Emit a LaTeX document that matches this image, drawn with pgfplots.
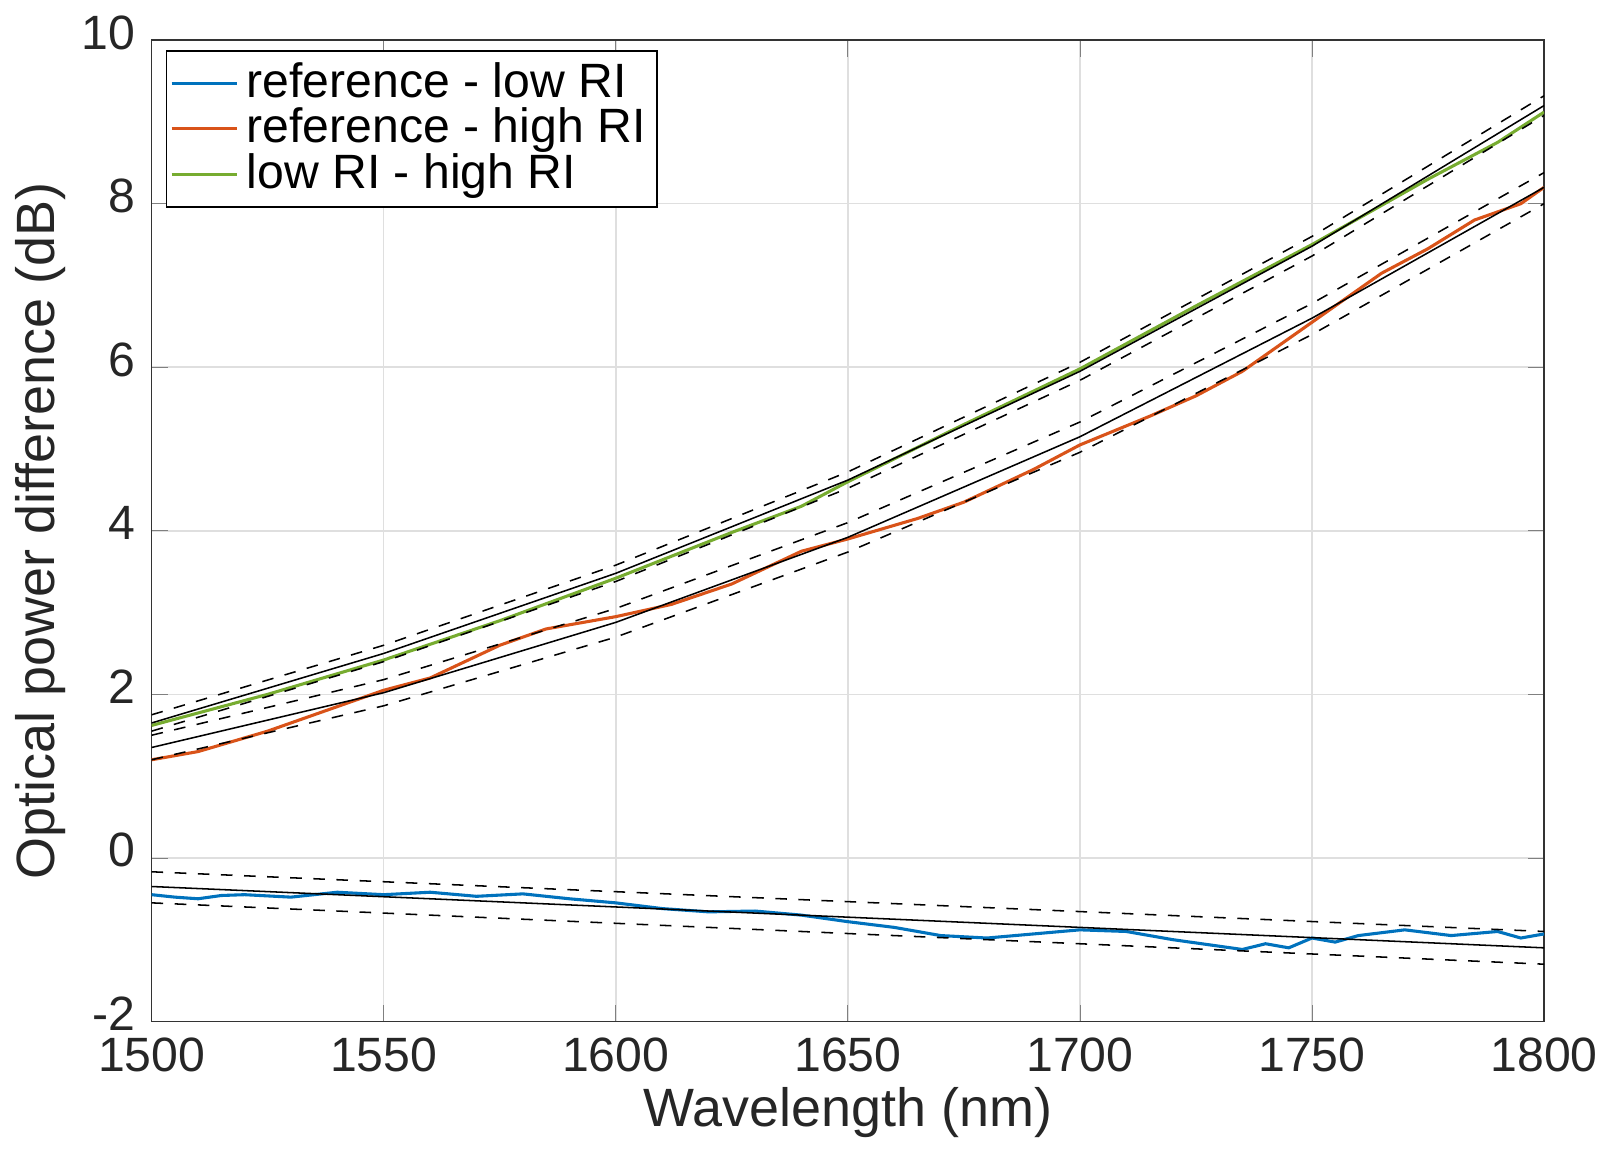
\documentclass[border=0pt]{standalone}
\usepackage{pgfplots}
\pgfplotsset{compat=1.18}
\usepackage{fontspec}
\setmainfont{Liberation Sans}
\definecolor{mblue}{RGB}{0,114,189}
\definecolor{morange}{RGB}{217,83,25}
\definecolor{mgreen}{RGB}{119,172,48}
\begin{document}
\fontsize{12}{14}\selectfont
\begin{tikzpicture}
\begin{axis}[scale only axis, width=12.7cm, height=8.95cm,
 xmin=1500, xmax=1800, ymin=-2, ymax=10,
 xtick={1500,1550,...,1800}, ytick={-2,0,...,10},
 grid=major, grid style={gray!25},
 /pgf/number format/assume math mode=true,
 /pgf/number format/set thousands separator={},
 tick label style={font=\fontsize{12.5}{15}\selectfont, color=black!85},
 label style={font=\fontsize{14}{17}\selectfont, color=black!85},
 xlabel={Wavelength (nm)}, ylabel={Optical power difference (dB)},
 xlabel style={yshift=4pt}, ylabel style={yshift=-4pt},
 yticklabel style={yshift=2pt},
 tick align=inside, axis line style={black!80},
 legend style={at={(0.01,0.99)}, anchor=north west, font=\fontsize{12.5}{15}\selectfont, draw=black, row sep=-3pt, inner sep=1pt},
 legend cell align=left]
\addplot[mblue, thick] coordinates {(1500,-0.45)(1505,-0.48)(1510,-0.5)(1515,-0.46)(1520,-0.45)(1530,-0.48)(1540,-0.42)(1550,-0.45)(1560,-0.42)(1570,-0.47)(1580,-0.44)(1590,-0.5)(1600,-0.55)(1610,-0.62)(1620,-0.66)(1630,-0.65)(1640,-0.7)(1650,-0.78)(1660,-0.85)(1670,-0.95)(1680,-0.98)(1690,-0.93)(1700,-0.88)(1710,-0.9)(1720,-1.0)(1730,-1.08)(1735,-1.12)(1740,-1.05)(1745,-1.1)(1750,-0.98)(1755,-1.03)(1760,-0.95)(1770,-0.88)(1780,-0.95)(1790,-0.9)(1795,-0.98)(1800,-0.93)};
\addlegendentry{reference - low RI}
\addplot[morange, thick] coordinates {(1500,1.2)(1510,1.3)(1525,1.55)(1540,1.85)(1550,2.05)(1560,2.2)(1575,2.6)(1585,2.8)(1600,2.95)(1612,3.1)(1625,3.35)(1640,3.75)(1650,3.9)(1665,4.15)(1675,4.35)(1690,4.75)(1700,5.05)(1715,5.4)(1725,5.65)(1735,5.95)(1745,6.35)(1755,6.75)(1765,7.15)(1775,7.45)(1785,7.8)(1795,8.0)(1800,8.2)};
\addlegendentry{reference - high RI}
\addplot[mgreen, thick] coordinates {(1500,1.62)(1525,2.0)(1550,2.42)(1575,2.9)(1600,3.42)(1625,3.98)(1640,4.3)(1650,4.6)(1675,5.3)(1700,5.98)(1725,6.75)(1750,7.5)(1775,8.3)(1790,8.75)(1800,9.12)};
\addlegendentry{low RI - high RI}
\addplot[black] coordinates {(1500,1.65)(1550,2.5)(1600,3.48)(1650,4.62)(1700,5.95)(1750,7.48)(1800,9.2)};
\addplot[black, dashed] coordinates {(1500,1.75)(1550,2.6)(1600,3.58)(1650,4.72)(1700,6.06)(1750,7.6)(1800,9.32)};
\addplot[black, dashed] coordinates {(1500,1.55)(1550,2.4)(1600,3.38)(1650,4.52)(1700,5.84)(1750,7.36)(1800,9.08)};
\addplot[black] coordinates {(1500,1.35)(1550,2.02)(1600,2.88)(1650,3.92)(1700,5.15)(1750,6.6)(1800,8.2)};
\addplot[black, dashed] coordinates {(1500,1.5)(1550,2.18)(1600,3.05)(1650,4.1)(1700,5.33)(1750,6.78)(1800,8.38)};
\addplot[black, dashed] coordinates {(1500,1.2)(1550,1.86)(1600,2.7)(1650,3.74)(1700,4.96)(1750,6.4)(1800,8.0)};
\addplot[black] coordinates {(1500,-0.35)(1800,-1.1)};
\addplot[black, dashed] coordinates {(1500,-0.17)(1800,-0.9)};
\addplot[black, dashed] coordinates {(1500,-0.55)(1800,-1.3)};
\end{axis}
\end{tikzpicture}
\end{document}
